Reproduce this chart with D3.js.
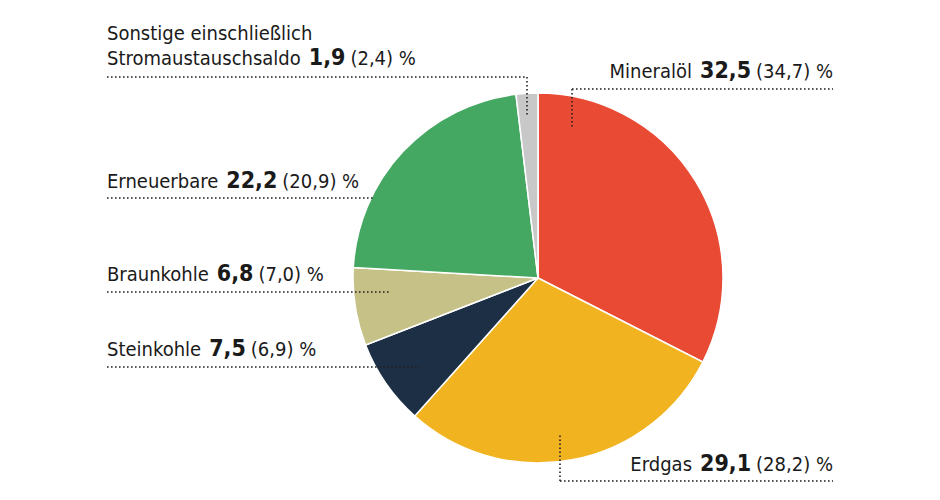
<!DOCTYPE html>
<html lang="de">
<head>
<meta charset="UTF-8" />
<title>Energieverbrauch</title>
<style>
  body { margin: 0; background: #fff; }
  svg text { font-family: "Liberation Sans Narrow", "DejaVu Sans Condensed", sans-serif; font-size: 20px; fill: #1a1a1a; }
  .lead { stroke: #222; stroke-width: 1.6; stroke-dasharray: 1.6 2.4; fill: none; }
</style>
</head>
<body>
<script src="https://cdn.jsdelivr.net/npm/d3@7"></script>
<div id="app"></div>
<script>
// DATEN
const kategorien = ["Mineralöl", "Erdgas", "Steinkohle", "Braunkohle", "Erneuerbare", "Sonstige"];
const anteile = [32.5, 29.1, 7.5, 6.8, 22.2, 1.9];
const vorjahr = [34.7, 28.2, 6.9, 7.0, 20.9, 2.4];
const farben = ["#e84a33", "#f2b320", "#1c2f45", "#c6c187", "#45a862", "#c8c8c8"];

// Beschriftungen: [x Text, Grundlinie, Ausrichtung, Linie y, Linie x1, x2, Ankerpunkt y]
const labels = [
  { i: 0, tx: 833, ty: 78, anchor: "end", ly: 89, x1: 572, x2: 833, vx: 572, vy: 128 },
  { i: 1, tx: 833, ty: 471, anchor: "end", ly: 481, x1: 560, x2: 833, vx: 560, vy: 435 },
  { i: 2, tx: 107, ty: 356, anchor: "start", ly: 367, x1: 107, x2: 420 },
  { i: 3, tx: 107, ty: 281, anchor: "start", ly: 292, x1: 107, x2: 390 },
  { i: 4, tx: 107, ty: 188, anchor: "start", ly: 198, x1: 107, x2: 375 },
  { i: 5, tx: 107, ty: 65, anchor: "start", ly: 77, x1: 107, x2: 527, vx: 527, vy: 115, pre: "Sonstige einschließlich", name: "Stromaustauschsaldo" }
];

const w = 940, h = 500;
const cx = 538, cy = 278, r = 185;
const fmt = v => d3.format(".1f")(v).replace(".", ",");

const svg = d3.select("#app").append("svg").attr("width", w).attr("height", h);

const pie = d3.pie().sort(null).value(d => d);
const arc = d3.arc().innerRadius(0).outerRadius(r);

svg.append("g")
  .attr("transform", "translate(" + cx + "," + cy + ")")
  .selectAll("path")
  .data(pie(anteile))
  .enter()
  .append("path")
  .attr("d", arc)
  .attr("fill", (d, i) => farben[i])
  .attr("stroke", "#fff")
  .attr("stroke-width", 1.5);

// LEITLINIEN + TEXT
labels.forEach(l => {
  svg.append("line").attr("class", "lead")
    .attr("x1", l.x1).attr("x2", l.x2).attr("y1", l.ly).attr("y2", l.ly);
  if (l.vx !== undefined) {
    svg.append("line").attr("class", "lead")
      .attr("x1", l.vx).attr("x2", l.vx).attr("y1", l.ly).attr("y2", l.vy);
  }
  if (l.pre) {
    svg.append("text").attr("x", l.tx).attr("y", l.ty - 25).text(l.pre);
  }
  const t = svg.append("text").attr("x", l.tx).attr("y", l.ty).attr("text-anchor", l.anchor);
  t.append("tspan").text(l.name || kategorien[l.i]);
  t.append("tspan").attr("dx", 8).attr("font-weight", "bold").style("font-size", "23px").text(fmt(anteile[l.i]));
  t.append("tspan").attr("dx", 5).text("(" + fmt(vorjahr[l.i]) + ") %");
});
</script>
</body>
</html>
